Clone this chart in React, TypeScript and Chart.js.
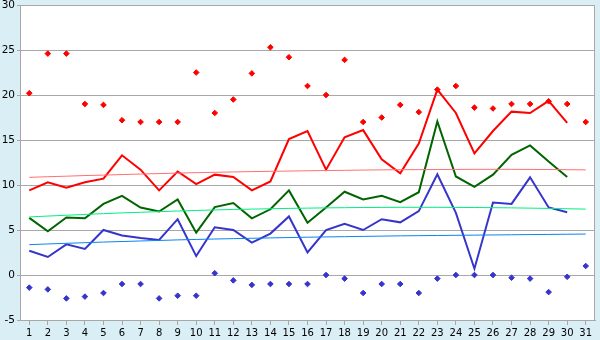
import React, { useEffect, useRef } from "react";
import { Chart, registerables } from "chart.js";

Chart.register(...registerables);

const days = Array.from({ length: 31 }, (_, i) => String(i + 1));

const recordMax = [20.2, 24.6, 24.6, 19.0, 18.9, 17.2, 17.0, 17.0, 17.0, 22.5, 18.0, 19.5, 22.4, 25.3, 24.2, 21.0, 20.0, 23.9, 17.0, 17.5, 18.9, 18.1, 20.6, 21.0, 18.6, 18.5, 19.0, 19.0, 19.3, 19.0, 17.0];
const recordMin = [-1.4, -1.6, -2.6, -2.4, -2.0, -1.0, -1.0, -2.6, -2.3, -2.3, 0.2, -0.6, -1.1, -1.0, -1.0, -1.0, 0.0, -0.4, -2.0, -1.0, -1.0, -2.0, -0.4, 0.0, 0.0, 0.0, -0.3, -0.4, -1.9, -0.2, 1.0];
const avgMax = [9.4, 10.3, 9.7, 10.3, 10.7, 13.3, 11.7, 9.4, 11.5, 10.1, 11.15, 10.9, 9.4, 10.4, 15.1, 16.0, 11.7, 15.3, 16.1, 12.85, 11.3, 14.6, 20.6, 18.0, 13.5, 16.0, 18.15, 18.0, 19.35, 16.9, null];
const avgMean = [6.35, 4.85, 6.4, 6.3, 7.9, 8.8, 7.5, 7.05, 8.4, 4.7, 7.55, 8.0, 6.3, 7.3, 9.4, 5.8, 7.5, 9.25, 8.4, 8.8, 8.1, 9.2, 17.05, 10.95, 9.8, 11.15, 13.35, 14.4, 12.6, 10.9, null];
const avgMin = [2.7, 2.0, 3.4, 2.9, 5.0, 4.4, 4.1, 3.9, 6.2, 2.1, 5.3, 5.0, 3.6, 4.6, 6.5, 2.5, 5.0, 5.7, 5.0, 6.2, 5.85, 7.1, 11.2, 6.9, 0.7, 8.05, 7.9, 10.85, 7.5, 6.97, null];
const trendMax = [10.85, 10.92, 10.98, 11.05, 11.1, 11.16, 11.22, 11.27, 11.32, 11.37, 11.41, 11.45, 11.49, 11.52, 11.55, 11.58, 11.61, 11.63, 11.66, 11.68, 11.7, 11.71, 11.72, 11.73, 11.74, 11.74, 11.74, 11.73, 11.72, 11.7, 11.68];
const trendMean = [6.45, 6.55, 6.64, 6.73, 6.82, 6.9, 6.97, 7.04, 7.11, 7.17, 7.23, 7.28, 7.32, 7.36, 7.4, 7.43, 7.46, 7.48, 7.5, 7.51, 7.52, 7.52, 7.52, 7.51, 7.5, 7.48, 7.46, 7.43, 7.4, 7.36, 7.32];
const trendMin = [3.37, 3.45, 3.52, 3.59, 3.66, 3.72, 3.78, 3.84, 3.9, 3.95, 4.0, 4.04, 4.08, 4.12, 4.16, 4.2, 4.23, 4.26, 4.29, 4.32, 4.35, 4.37, 4.39, 4.41, 4.43, 4.45, 4.47, 4.49, 4.51, 4.53, 4.55];

const yMin = -5;
const yMax = 30;
const yStep = 5;

const BG = "#D9EEF5";
const GRID = "#A8A8A8";

const framePlugin = {
  id: "frame",
  beforeDraw(chart: any) {
    const { ctx, chartArea } = chart;
    ctx.save();
    ctx.fillStyle = BG;
    ctx.fillRect(0, 0, chart.width, chart.height);
    ctx.fillStyle = "#FFFFFF";
    ctx.fillRect(chartArea.left, chartArea.top, chartArea.right - chartArea.left, chartArea.bottom - chartArea.top);
    ctx.restore();
  },
  afterDatasetsDraw(chart: any) {
    const { ctx, chartArea } = chart;
    ctx.save();
    ctx.strokeStyle = GRID;
    ctx.lineWidth = 1;
    ctx.strokeRect(chartArea.left + 0.5, chartArea.top + 0.5, chartArea.right - chartArea.left - 1, chartArea.bottom - chartArea.top);
    ctx.restore();
  },
};

export default function App() {
  const ref = useRef<HTMLCanvasElement | null>(null);
  useEffect(() => {
    document.body.style.margin = "0";
    const canvas = ref.current!;
    const trend = (data: number[], color: string) => ({
      type: "line" as const,
      data,
      borderColor: color,
      borderWidth: 1,
      pointRadius: 0,
      fill: false,
      tension: 0,
    });
    const main = (data: (number | null)[], color: string) => ({
      type: "line" as const,
      data,
      borderColor: color,
      borderWidth: 2,
      pointRadius: 0,
      fill: false,
      tension: 0,
      spanGaps: false,
    });
    const pts = (data: number[], color: string) => ({
      type: "line" as const,
      data,
      showLine: false,
      pointStyle: "rectRot" as const,
      pointRadius: 2.8,
      pointBackgroundColor: color,
      pointBorderColor: color,
      pointBorderWidth: 1,
      borderColor: color,
    });
    const chart = new Chart(canvas, {
      type: "line",
      data: {
        labels: days,
        datasets: [
          trend(trendMax, "#FF7070"),
          trend(trendMean, "#00F080"),
          trend(trendMin, "#0A84F0"),
          main(avgMax, "#FF0000"),
          main(avgMean, "#006400"),
          main(avgMin, "#3535CC"),
          pts(recordMax, "#FF0000"),
          pts(recordMin, "#3535CC"),
        ],
      },
      options: {
        animation: false,
        responsive: false,
        maintainAspectRatio: false,
        plugins: { legend: { display: false }, tooltip: { enabled: false } },
        layout: { padding: { top: 5, right: 5, left: 0, bottom: 0 } },
        scales: {
          x: {
            type: "category",
            offset: true,
            grid: {
              display: true,
              drawOnChartArea: false,
              drawTicks: true,
              tickLength: 5,
              color: GRID,
              offset: false,
            },
            border: { display: true, color: GRID },
            ticks: {
              color: "#000000",
              font: { family: "DejaVu Sans", size: 10 },
              padding: 2,
              maxRotation: 0,
              autoSkip: false,
            },
            afterFit(scale: any) {
              scale.height = 20;
              scale.paddingLeft = 0;
              scale.paddingRight = 0;
            },
          },
          y: {
            min: yMin,
            max: yMax,
            ticks: {
              stepSize: yStep,
              color: "#000000",
              font: { family: "DejaVu Sans", size: 10.5 },
              padding: 2,
            },
            grid: { color: GRID, tickLength: 3, drawTicks: true },
            border: { display: true, color: GRID },
            afterFit(scale: any) {
              scale.width = 20;
              scale.paddingTop = 0;
              scale.paddingBottom = 0;
            },
          },
        },
      },
      plugins: [framePlugin],
    });
    return () => chart.destroy();
  }, []);
  return (
    <div style={{ width: 600, height: 340 }}>
      <canvas ref={ref} width={600} height={340} style={{ display: "block" }} />
    </div>
  );
}
